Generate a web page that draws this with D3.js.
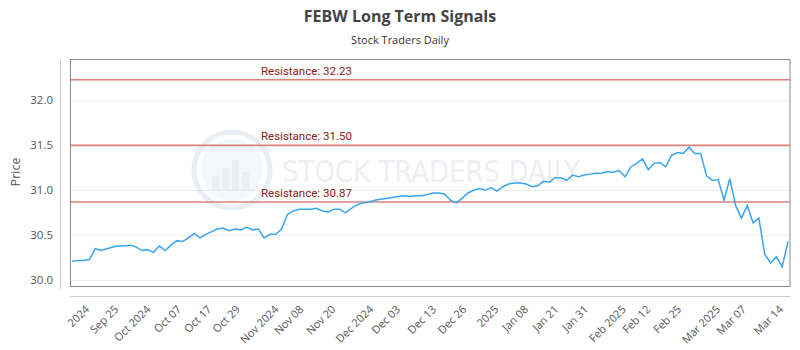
<!DOCTYPE html>
<html>
<head>
<meta charset="utf-8">
<script src="https://cdn.jsdelivr.net/npm/d3@7"></script>
<style>
  body { margin: 0; background: #fff; }
  text { font-family: "Open Sans", sans-serif; }
</style>
</head>
<body>
<div id="graph"></div>
<script>
// daily closes
var prices = [
  30.21, 30.22, 30.22, 30.23, 30.35, 30.33, 30.35, 30.37, 30.38, 30.38,
  30.39, 30.37, 30.33, 30.34, 30.31, 30.38, 30.33, 30.39, 30.44, 30.43,
  30.47, 30.52, 30.47, 30.51, 30.54, 30.57, 30.58, 30.55, 30.57, 30.56,
  30.59, 30.56, 30.57, 30.47, 30.51, 30.51, 30.57, 30.73, 30.77, 30.79,
  30.79, 30.79, 30.80, 30.77, 30.76, 30.79, 30.79, 30.75, 30.80, 30.84,
  30.86, 30.87, 30.89, 30.90, 30.91, 30.92, 30.93, 30.94, 30.93, 30.94,
  30.94, 30.95, 30.97, 30.97, 30.96, 30.89, 30.86, 30.91, 30.97, 31.00,
  31.02, 31.00, 31.03, 30.99, 31.04, 31.07, 31.08, 31.08, 31.07, 31.04,
  31.05, 31.10, 31.09, 31.14, 31.14, 31.11, 31.17, 31.15, 31.17, 31.18,
  31.19, 31.19, 31.21, 31.20, 31.22, 31.15, 31.26, 31.30, 31.35, 31.23,
  31.30, 31.31, 31.26, 31.39, 31.42, 31.41, 31.48, 31.41, 31.41, 31.16,
  31.11, 31.12, 30.89, 31.13, 30.83, 30.69, 30.83, 30.64, 30.69, 30.29,
  30.19, 30.26, 30.15, 30.43
]

var tickLabels = ['2024', 'Sep 25', 'Oct 2024', 'Oct 07', 'Oct 17', 'Oct 29', 'Nov 2024',
  'Nov 08', 'Nov 20', 'Dec 2024', 'Dec 03', 'Dec 13', 'Dec 26', '2025', 'Jan 08',
  'Jan 21', 'Jan 31', 'Feb 2025', 'Feb 12', 'Feb 25', 'Mar 2025', 'Mar 07', 'Mar 14']
// where each label sits, in points along the series
var tickIdx = [3.1, 8.1, 13.6, 18.9, 24.1, 29.0, 35.6, 39.9, 45.4, 51.9, 56.5, 62.7,
  67.9, 73.4, 78.5, 83.7, 88.8, 95.3, 99.5, 104.8, 111.5, 115.9, 122.3]

var yTicks = [30.0, 30.5, 31.0, 31.5, 32.0]
var resistance = [32.23, 31.50, 30.87]

var W = 800, H = 350
var plot = {left: 70.5, right: 790, top: 59.5, bottom: 286.5}

var svg = d3.select('#graph').append('svg')
    .attr('width', W).attr('height', H)

var x = d3.scaleLinear().domain([0, prices.length - 1]).range([72, 788])
var y = d3.scaleLinear().domain([29.93, 32.455]).range([plot.bottom, plot.top])

// titles
svg.append('text')
    .attr('x', W / 2).attr('y', 22)
    .attr('text-anchor', 'middle')
    .style('font-size', '16px').style('font-weight', 'bold').style('fill', '#444')
    .text('FEBW Long Term Signals')

svg.append('text')
    .attr('x', W / 2).attr('y', 44)
    .attr('text-anchor', 'middle')
    .style('font-size', '11px').style('fill', '#333')
    .text('Stock Traders Daily')

// grid
svg.append('g').selectAll('line')
    .data(yTicks).join('line')
    .attr('x1', plot.left).attr('x2', plot.right)
    .attr('y1', d => Math.round(y(d)) + 0.5).attr('y2', d => Math.round(y(d)) + 0.5)
    .attr('stroke', '#eeeeee')

// watermark
var wm = svg.append('g').attr('opacity', 0.3)
wm.append('circle').attr('cx', 232).attr('cy', 170).attr('r', 38)
    .attr('fill', 'none').attr('stroke', '#b8cbe0').attr('stroke-width', 5)
wm.append('circle').attr('cx', 232).attr('cy', 170).attr('r', 31).attr('fill', '#dbe5f0')
wm.selectAll('rect.bar').data([14, 22, 30, 18]).join('rect')
    .attr('x', (d, i) => 212 + i * 10).attr('y', d => 190 - d)
    .attr('width', 7).attr('height', d => d).attr('fill', '#b8cbe0')
wm.append('text')
    .attr('x', 282).attr('y', 182)
    .attr('textLength', 298).attr('lengthAdjust', 'spacingAndGlyphs')
    .style('font-family', 'DejaVu Sans Condensed, sans-serif')
    .style('font-size', '30px').style('fill', '#c4ccd6')
    .text('STOCK TRADERS DAILY')

// resistance lines
var res = svg.append('g').selectAll('g')
    .data(resistance).join('g')

res.append('line')
    .attr('x1', plot.left).attr('x2', plot.right)
    .attr('y1', d => y(d)).attr('y2', d => y(d))
    .attr('stroke', '#d9807c').attr('stroke-width', 1.6)

res.append('text')
    .attr('x', 261).attr('y', d => y(d) - 5)
    .style('font-family', 'Roboto, sans-serif').style('font-size', '11.5px').style('fill', '#8b2020')
    .text(d => 'Resistance: ' + d.toFixed(2))

// price line
svg.append('path')
    .datum(prices)
    .attr('d', d3.line().x((d, i) => x(i)).y(d => y(d)))
    .attr('fill', 'none').attr('stroke', '#3aa5ee').attr('stroke-width', 1.5)

// frame
svg.append('rect')
    .attr('x', plot.left).attr('y', plot.top)
    .attr('width', plot.right - plot.left).attr('height', plot.bottom - plot.top)
    .attr('fill', 'none').attr('stroke', '#8a8a8a')

// y axis
svg.append('line')
    .attr('x1', 60.5).attr('x2', 60.5).attr('y1', 59).attr('y2', 289)
    .attr('stroke', '#cccccc')

svg.append('g').selectAll('text')
    .data(yTicks).join('text')
    .attr('x', 53).attr('y', d => y(d)).attr('dy', '0.35em')
    .attr('text-anchor', 'end')
    .style('font-size', '11.5px').style('fill', '#555')
    .text(d => d.toFixed(1))

svg.append('text')
    .attr('transform', 'translate(20,172) rotate(-90)')
    .attr('text-anchor', 'middle')
    .style('font-size', '12.5px').style('fill', '#555')
    .text('Price')

// x axis
svg.append('line')
    .attr('x1', 70).attr('x2', 790).attr('y1', 296.5).attr('y2', 296.5)
    .attr('stroke', '#cccccc')

svg.append('g').selectAll('text')
    .data(tickIdx).join('text')
    .attr('transform', d => 'translate(' + x(d) + ',310) rotate(-45)')
    .attr('text-anchor', 'end')
    .style('font-size', '11px').style('fill', '#555')
    .text((d, i) => tickLabels[i])
</script>
</body>
</html>
